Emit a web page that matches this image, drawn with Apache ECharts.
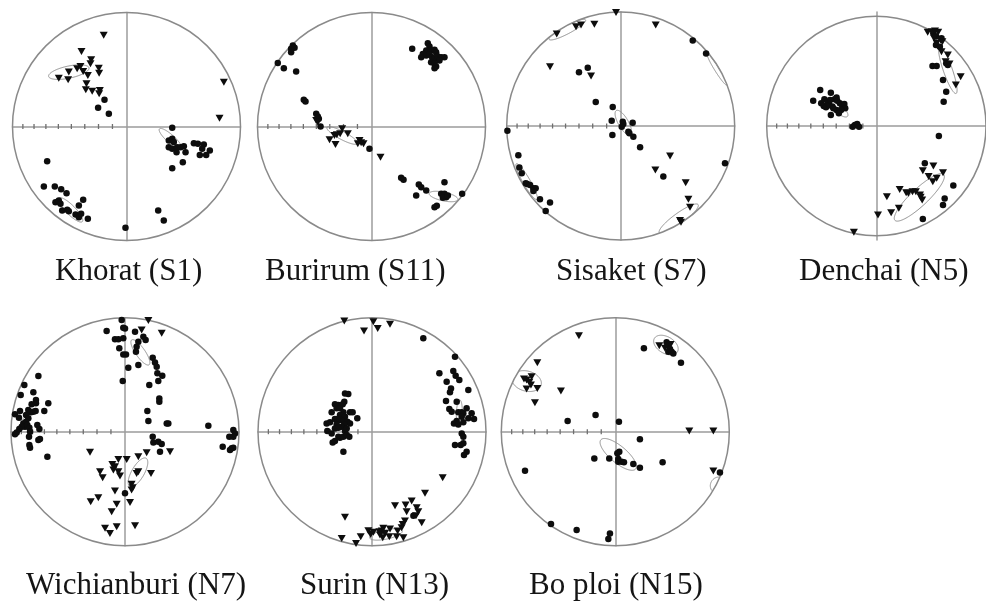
<!DOCTYPE html>
<html><head><meta charset="utf-8">
<script src="https://cdn.jsdelivr.net/npm/echarts@6/dist/echarts.min.js"></script>
<style>html,body{margin:0;padding:0;background:#fff}#c{width:986px;height:605px}</style>
</head><body><div id="c"></div>
<script>
// ---- data (equal-area projected coordinates, net radius = 100) ----
const siteLabels = ['Khorat (S1)', 'Burirum (S11)', 'Sisaket (S7)', 'Denchai (N5)', 'Wichianburi (N7)', 'Surin (N13)', 'Bo ploi (N15)'];
const inclinationTicks = [10, 20, 30, 40, 50, 60, 70, 80];

const khoratDots = [[-19.3,23.4],[-24.9,16.4],[-15.5,11.1],[40.1,-1.2],[37.1,-12.3],[40.1,-10.8],[41.5,-13.7],[37.1,-18.1],[40.1,-19.6],[44.4,-18.1],[47.4,-18.1],[50.3,-17.3],[51.8,-22.5],[43.9,-22.5],[59.1,-14.6],[62.6,-15.2],[67.8,-15.8],[66.4,-19.6],[73.1,-21.1],[64.3,-24.9],[69.9,-24.9],[49.4,-31.3],[40.1,-36.6],[-69.6,-30.4],[-72.5,-52.6],[-62.9,-52.6],[-57.3,-55],[-52.6,-58.5],[-38,-64.3],[-41.8,-69.3],[-62.3,-66.4],[-59.4,-64.9],[-57.9,-67.8],[-56.4,-73.7],[-52,-73.1],[-50.6,-74.3],[-44.7,-77.2],[-41.8,-79.5],[-39.8,-76.6],[-33.9,-81],[27.8,-73.7],[32.7,-82.5],[-0.9,-88.9]];
const khoratTriangles = [[-20,80],[-39.5,65.8],[-31,58.5],[-31.6,55],[-24.3,51.2],[-24,46.8],[-40.4,52.6],[-43.3,50.6],[-38,48.2],[-33.9,44.7],[-50.6,47.7],[-51.2,40.9],[-59.4,42.4],[-35.1,37.4],[-35.7,32.2],[-30.1,31],[-23.4,31.6],[-24,28.7],[85.4,38.9],[81.6,7.3]];
const khoratEllipses = [[-50.6,47.7,18.1,5.3,12],[38.6,-10.8,13,3.5,-42],[-49.1,-73.1,14.6,4.1,-45]];

const burirumDots = [[35.7,68.1],[49.4,73.1],[50.9,70.2],[48,66.7],[52.3,66.7],[55.3,67.3],[56.7,65.2],[45,63.7],[43.6,60.8],[48,62.3],[50.9,63.2],[53.2,60.8],[55.3,59.4],[58.2,61.4],[61.1,60.8],[64,60.8],[59.6,57.9],[52.3,56.4],[55.3,55],[56.7,52.6],[55.3,51.2],[-69,71.1],[-70.5,68.1],[-67.5,69],[-70.5,65.2],[-82.2,55.6],[-76.9,51.2],[-66.1,48.2],[-59.4,23.4],[-57.9,21.9],[-48.5,11.1],[-47.1,8.8],[-46.2,6.7],[-44.7,0],[-1.8,-19.6],[26,-45],[28.1,-46.8],[39.2,-60.5],[41.5,-50.9],[43.6,-53.2],[48,-56.1],[64,-48.8],[79.5,-59.1],[55.3,-70.8],[57.3,-69.6],[61.1,-59.1],[64,-59.1],[65.5,-62],[62.6,-62.6],[67,-60.5]];
const burirumTriangles = [[-48.5,5.3],[-47.1,3.8],[-25.7,-2],[-27.5,-6.4],[-30.4,-7.3],[-32.5,-7.9],[-36.8,-11.7],[-31.6,-15.8],[-20.8,-6.4],[-10.5,-12.3],[-9.1,-14.3],[-12,-15.2],[-7,-15.2],[7.9,-26.9]];
const burirumEllipses = [[-25.7,-7.9,15.2,3.5,-28],[63.2,-61.4,12.9,3.8,-12]];

const sisaketDots = [[63.2,74.9],[74.9,63.7],[-28.9,51.2],[-36.6,47.1],[-21.9,21.1],[-7,16.7],[-7.9,4.7],[1.8,3.8],[2.3,1.8],[0.9,-0.6],[10.5,2.9],[6.7,-5],[7.6,-6.4],[-7.3,-7.9],[11.1,-9.4],[17,-18.7],[37.4,-44.4],[91.5,-32.7],[-99.4,-4.1],[-89.8,-25.7],[-88.9,-36.3],[-86.8,-41.5],[-83.3,-50.3],[-81.9,-50.9],[-79.5,-51.8],[-76.6,-54.7],[-74.6,-54.7],[-76.6,-57],[-70.8,-64.3],[-62,-67],[-65.8,-74.6]];
const sisaketTriangles = [[-4.1,99.5],[-23.1,89.2],[-34.8,88.6],[-39.2,87.1],[-56.1,80.7],[30.7,88.6],[-62,52],[-26,43.9],[43.3,-26.3],[30.4,-38.6],[57,-49.7],[59.4,-64.3],[60.8,-71.3],[52,-83],[52.9,-84.5]];
const sisaketEllipses = [[2.3,2.9,12.3,4.4,-60],[-46.8,84.5,18.1,3.5,28],[50.9,-81.3,21,4.7,36],[-82.5,-48.8,18.1,3.2,-60],[84.5,49.5,16,2,-58]];

const denchaiDots = [[-51.2,31.6],[-41.5,29.2],[-57.6,22.2],[-50.3,19.9],[-47.4,23.4],[-44.4,21.3],[-48,17.5],[-45.9,16.4],[-43,18.4],[-40.1,17],[-38,23.4],[-36.3,25.1],[-35.7,22.2],[-33.3,19.9],[-31.3,18.4],[-29.2,19.3],[-28.4,15.5],[-32.2,14],[-36.3,14],[-34.2,11.1],[-41.5,9.6],[-39.2,15.5],[-42.1,22.8],[-21.6,-0.6],[-19.6,0.9],[-17.5,1.8],[-15.8,-0.6],[57,-8.8],[52,81.3],[54.4,78.4],[59.4,76.9],[54.4,71.1],[57.9,69.6],[51.2,52.6],[55,52.6],[63.7,55],[65.2,53.5],[60.8,40.4],[63.7,30.1],[61.4,21.3],[44.2,-32.7],[70.2,-52.3],[62.3,-63.5],[60.8,-69.3],[42.4,-81.6]];
const denchaiTriangles = [[46.8,82.2],[50.6,82.7],[53.5,83.3],[56.4,82.2],[52.6,76.9],[58.5,75.4],[60.2,74],[55,72.5],[59.4,65.2],[65.2,62.3],[63.2,56.4],[66.7,54.4],[76.9,43.3],[72.5,36],[52,-35.1],[42.4,-39.2],[47.7,-44.4],[51.5,-48.8],[55,-45.9],[60.8,-40.9],[33,-57.6],[29.2,-59.1],[27.2,-58.5],[21.3,-55.6],[36,-57.6],[39.8,-60.5],[40.4,-62.6],[41.8,-64.9],[20.5,-72.2],[13.5,-76],[9.6,-62],[1.5,-78.1],[-20.5,-93.3]];
const denchaiEllipses = [[-35.7,16.4,12.3,4.1,-40],[65.2,49.1,21.9,4.1,-70],[39.2,-62.6,30,7.6,42]];

const wichianburiDots = [[-88.3,40.9],[-76,48.8],[-91.5,32.2],[-80.4,34.5],[-78.1,27.8],[-78.1,24.9],[-81.9,24],[-67.3,24.9],[-70.8,18.1],[-92.1,18.1],[-96.5,15.2],[-93,12.3],[-84.8,19],[-82.5,17],[-80.4,17.5],[-78.4,18.1],[-86.8,14.6],[-84.8,11.7],[-86.8,8.8],[-89.2,7.3],[-87.7,4.4],[-90.6,4.4],[-85.7,5.8],[-83.9,3.5],[-95,-0.6],[-92.7,2.3],[-83.3,0],[-76.9,5.8],[-75.1,2.3],[-76,-7.3],[-74.6,-6.4],[-84.2,-4.4],[-83.9,-11.7],[-83.3,-14],[-68.1,-21.9],[-96.5,-2.3],[-2.9,98],[-1.5,91.2],[0,90.6],[-16.1,88.3],[-8.8,81],[-5.8,81],[-1.5,81.9],[-5,73.1],[-1.5,67.8],[0.9,67.8],[2.9,56.1],[-2,44.4],[8.8,87.7],[16.1,83.3],[18.1,80.4],[11.7,78.9],[10.2,74.6],[9.6,70.2],[11.7,58.5],[24.3,64.9],[26.3,60.8],[27.8,57],[28.4,51.2],[32.7,49.1],[29.2,44.4],[21.3,40.9],[30.1,29.2],[30.1,26.3],[19.6,18.1],[20.5,9.4],[36.6,7.3],[38,7.3],[73.1,5.3],[24.3,-4.4],[24.9,-9.4],[29.2,-8.8],[32.2,-10.8],[30.7,-17.5],[95,1.5],[96.5,-1.5],[95,-4.4],[91.5,-4.4],[85.7,-13.2],[93.6,-14.6],[95,-14],[92.1,-16.1],[0,-54.1]];
const wichianburiTriangles = [[20.5,97.5],[32.2,86.3],[14.6,89.2],[-30.7,-18.1],[-5.8,-24.3],[1.5,-24.3],[-11.1,-28.7],[-8.8,-30.7],[-10.2,-33.6],[-5.8,-35.1],[-21.9,-35.1],[-19.6,-40.4],[-4.4,-38.9],[11.7,-21.9],[19,-18.4],[22.8,-36.6],[11.7,-35.1],[10.2,-36.6],[5.8,-46.2],[6.7,-49.1],[5.8,-51.2],[-8.8,-52],[4.4,-62],[-23.4,-57.9],[-30.1,-61.4],[-7.3,-63.7],[-11.7,-70.2],[-7.3,-83.3],[-17.5,-84.8],[-13.2,-89.2],[8.8,-82.5],[39.5,-17.5]];
const wichianburiEllipses = [[13.5,69.6,13.3,4.1,-55],[-87.7,8.2,5.3,2.9,70],[11.4,-35.7,14.3,5.5,60]];

const surinDots = [[-23.7,33.6],[-20.8,33],[-29.5,23.4],[-24.3,26.3],[-25.7,24],[-32.5,24],[-31,20.5],[-28.1,20.5],[-35.4,17],[-25.1,17],[-19.3,17],[-17,17],[-28.1,14.6],[-23.7,13.2],[-12.9,11.7],[-39.8,7.3],[-36.8,8.2],[-32.5,11.1],[-30.4,11.1],[-28.1,10.2],[-25.1,9.4],[-21.6,8.8],[-19.3,7.3],[-24.3,6.4],[-26.6,4.4],[-31,6.4],[-32.5,2.9],[-29.5,3.5],[-39.2,0.6],[-35.4,-1.5],[-23.7,0.6],[-29.5,-4.4],[-28.1,-5.3],[-25.1,-4.4],[-22.2,-2.9],[-19.9,-4.4],[-34.5,-9.4],[-32.5,-8.2],[-25.1,-17.5],[-22.2,2.9],[72.8,65.8],[59.1,51.2],[71.3,53.2],[73.4,49.1],[76.6,45.3],[65.5,43.9],[69.3,38],[68.4,34.5],[84.5,36.6],[64.9,26.9],[74.3,26.3],[67.8,19.9],[69.9,17.5],[75.7,17],[78.7,17],[80.1,16.1],[83,20.5],[87.4,16.1],[78.7,13.2],[74.3,9.4],[80.1,8.2],[84.5,11.7],[89.5,11.1],[71.9,7.3],[75.7,6.4],[78.7,-1.5],[80.1,-4.4],[72.8,-11.7],[77.8,-11.7],[80.1,-10.2],[83,-17.5],[80.7,-20.5],[45,81.9],[36.3,-73.7]];
const surinTriangles = [[-24.3,97.1],[-7,88.3],[1.2,96.5],[5,90.6],[15.8,94.2],[62,-40.4],[46.5,-54.1],[34.8,-60.8],[20.2,-64.9],[29.5,-64.3],[39.2,-66.7],[40.6,-70.2],[38.6,-73.7],[30.4,-70.2],[28.9,-78.4],[26.9,-81.3],[43.6,-79.8],[26,-84.2],[22.5,-87.1],[15.8,-85.4],[21.6,-92.1],[9.9,-84.8],[8.5,-87.1],[11.4,-89.2],[6.4,-87.7],[7,-90.6],[1.2,-88.3],[-3.2,-86.8],[-1.2,-90.1],[9.4,-93],[15.2,-92.1],[27.5,-93],[-9.9,-92.1],[-26.6,-93.6],[-14,-98],[-23.7,-75.1]];
const surinEllipses = [[-28.7,5.3,5,3,30],[76.6,16.1,11.7,2.6,88],[12.3,-90.1,14.6,4.1,12]];

const boploiDots = [[25.1,73.1],[45,78.4],[45.9,76],[48,72.5],[46.5,70.2],[49.4,70.2],[50.9,68.7],[57.6,60.5],[-17.3,14.6],[-41.8,9.4],[3.2,8.8],[21.6,-6.7],[3.5,-17.5],[1.8,-19],[-18.4,-23.4],[-5.3,-23.4],[2.6,-24],[2.6,-26.3],[5.6,-26.3],[7.6,-26.9],[15.8,-28.4],[21.6,-31.6],[41.5,-26.9],[-79.2,-34.2],[-56.4,-81],[-33.9,-86.3],[-4.7,-89.2],[-6.1,-94.2],[91.8,-35.7]];
const boploiTriangles = [[-31.9,84.2],[-68.4,60.5],[-80.1,46.2],[-77.8,45.3],[-75.4,43.3],[-73.4,48.2],[-74,40.9],[-68.4,38],[-77.8,37.4],[-47.7,35.7],[-70.5,25.4],[64.9,0.6],[86,0.6],[86,-34.5],[38.6,75.4],[43.6,73.1],[48.5,76.6]];
const boploiEllipses = [[44.4,76,11.7,7.3,-30],[-77.8,44.4,13.2,8.8,-15],[2.6,-19.9,19.9,7.3,-40],[89.6,-46.6,7,6,60]];

// ---- layout (pixels) ----
const R = 114;
const layout = [
  {cx:126.5, cy:126.5, lx:55,  ly:272},
  {cx:371.5, cy:126.5, lx:265, ly:272},
  {cx:620.7, cy:126,   lx:556, ly:272},
  {cx:880.7, cy:126,   lx:799, ly:272},
  {cx:125,   cy:431.7, lx:26,  ly:586},
  {cx:372,   cy:431.7, lx:300, ly:586},
  {cx:615.3, cy:431.7, lx:529, ly:586}
];
const sites = [
  {dots:khoratDots, tris:khoratTriangles, ells:khoratEllipses},
  {dots:burirumDots, tris:burirumTriangles, ells:burirumEllipses},
  {dots:sisaketDots, tris:sisaketTriangles, ells:sisaketEllipses},
  {dots:denchaiDots, tris:denchaiTriangles, ells:denchaiEllipses},
  {dots:wichianburiDots, tris:wichianburiTriangles, ells:wichianburiEllipses},
  {dots:surinDots, tris:surinTriangles, ells:surinEllipses},
  {dots:boploiDots, tris:boploiTriangles, ells:boploiEllipses}
];

const AXIS_GRAY = '#9c9c9c', RIM_GRAY = '#8a8a8a', ELL_GRAY = '#8f8f8f';
const tickData = inclinationTicks.map(I => [-100 * Math.SQRT2 * Math.sin((90 - I) / 2 * Math.PI / 180), 0]);

function rimItem(params, api) {
  const c = api.coord([0, 0]);
  const r = api.size([100, 0])[0];
  return {type:'circle', shape:{cx:c[0], cy:c[1], r:r}, style:{fill:null, stroke:RIM_GRAY, lineWidth:1.5}};
}
function ellipseItem(params, api) {
  const cx = api.value(0), cy = api.value(1), a = api.value(2), b = api.value(3);
  const ang = api.value(4) * Math.PI / 180;
  const N = 160, pts = [];
  for (let k = 0; k < N; k++) {
    const t = 2 * Math.PI * k / N;
    const ex = a * Math.cos(t), ey = b * Math.sin(t);
    const x = cx + ex * Math.cos(ang) - ey * Math.sin(ang);
    const y = cy + ex * Math.sin(ang) + ey * Math.cos(ang);
    pts.push([x, y, x * x + y * y <= 10000]);
  }
  const style = {fill:null, stroke:ELL_GRAY, lineWidth:1};
  const s = pts.findIndex(p => !p[2]);
  if (s < 0) {
    return {type:'polygon', shape:{points:pts.map(p => api.coord([p[0], p[1]]))}, style:style};
  }
  const children = []; let cur = [];
  for (let k = 1; k <= N; k++) {
    const p = pts[(s + k) % N];
    if (p[2]) cur.push(api.coord([p[0], p[1]]));
    else { if (cur.length > 1) children.push(cur); cur = []; }
  }
  if (cur.length > 1) children.push(cur);
  return {type:'group', children:children.map(c => ({type:'polyline', shape:{points:c}, style:style}))};
}

const grid = [], xAxis = [], yAxis = [], series = [];
layout.forEach((l, i) => {
  grid.push({left:l.cx - R, top:l.cy - R, width:2 * R, height:2 * R});
  const ax = {gridIndex:i, type:'value', min:-100, max:100,
    axisLine:{show:true, onZero:true, lineStyle:{color:AXIS_GRAY, width:1.5}},
    axisTick:{show:false}, axisLabel:{show:false}, splitLine:{show:false}};
  xAxis.push(Object.assign({}, ax));
  yAxis.push(Object.assign({}, ax));
  const s = sites[i];
  series.push({type:'custom', xAxisIndex:i, yAxisIndex:i, renderItem:rimItem, data:[[0, 0]], silent:true, z:1});
  series.push({type:'scatter', xAxisIndex:i, yAxisIndex:i, data:tickData, symbol:'rect', symbolSize:[1.3, 5],
    itemStyle:{color:'#6f6f6f', opacity:1}, silent:true, z:2});
  series.push({type:'custom', xAxisIndex:i, yAxisIndex:i, renderItem:ellipseItem, data:s.ells, silent:true, z:3});
  series.push({type:'scatter', xAxisIndex:i, yAxisIndex:i, data:s.dots, symbol:'circle', symbolSize:6.5,
    itemStyle:{color:'#0d0d0d', opacity:1}, silent:true, z:4});
  series.push({type:'scatter', xAxisIndex:i, yAxisIndex:i, data:s.tris, symbol:'triangle', symbolRotate:180, symbolSize:[8, 7],
    itemStyle:{color:'#0d0d0d', opacity:1}, silent:true, z:4});
});

const graphic = siteLabels.map((t, i) => ({
  type:'text', x:layout[i].lx, y:layout[i].ly, silent:true,
  style:{text:t, fontSize:31, fontFamily:'"Liberation Serif", "Times New Roman", serif', fill:'#151515', align:'left', verticalAlign:'middle'}
}));

const chart = echarts.init(document.getElementById('c'), null, {renderer:'canvas'});
chart.setOption({animation:false, backgroundColor:'#fff', grid, xAxis, yAxis, series, graphic});
</script>
</body></html>
